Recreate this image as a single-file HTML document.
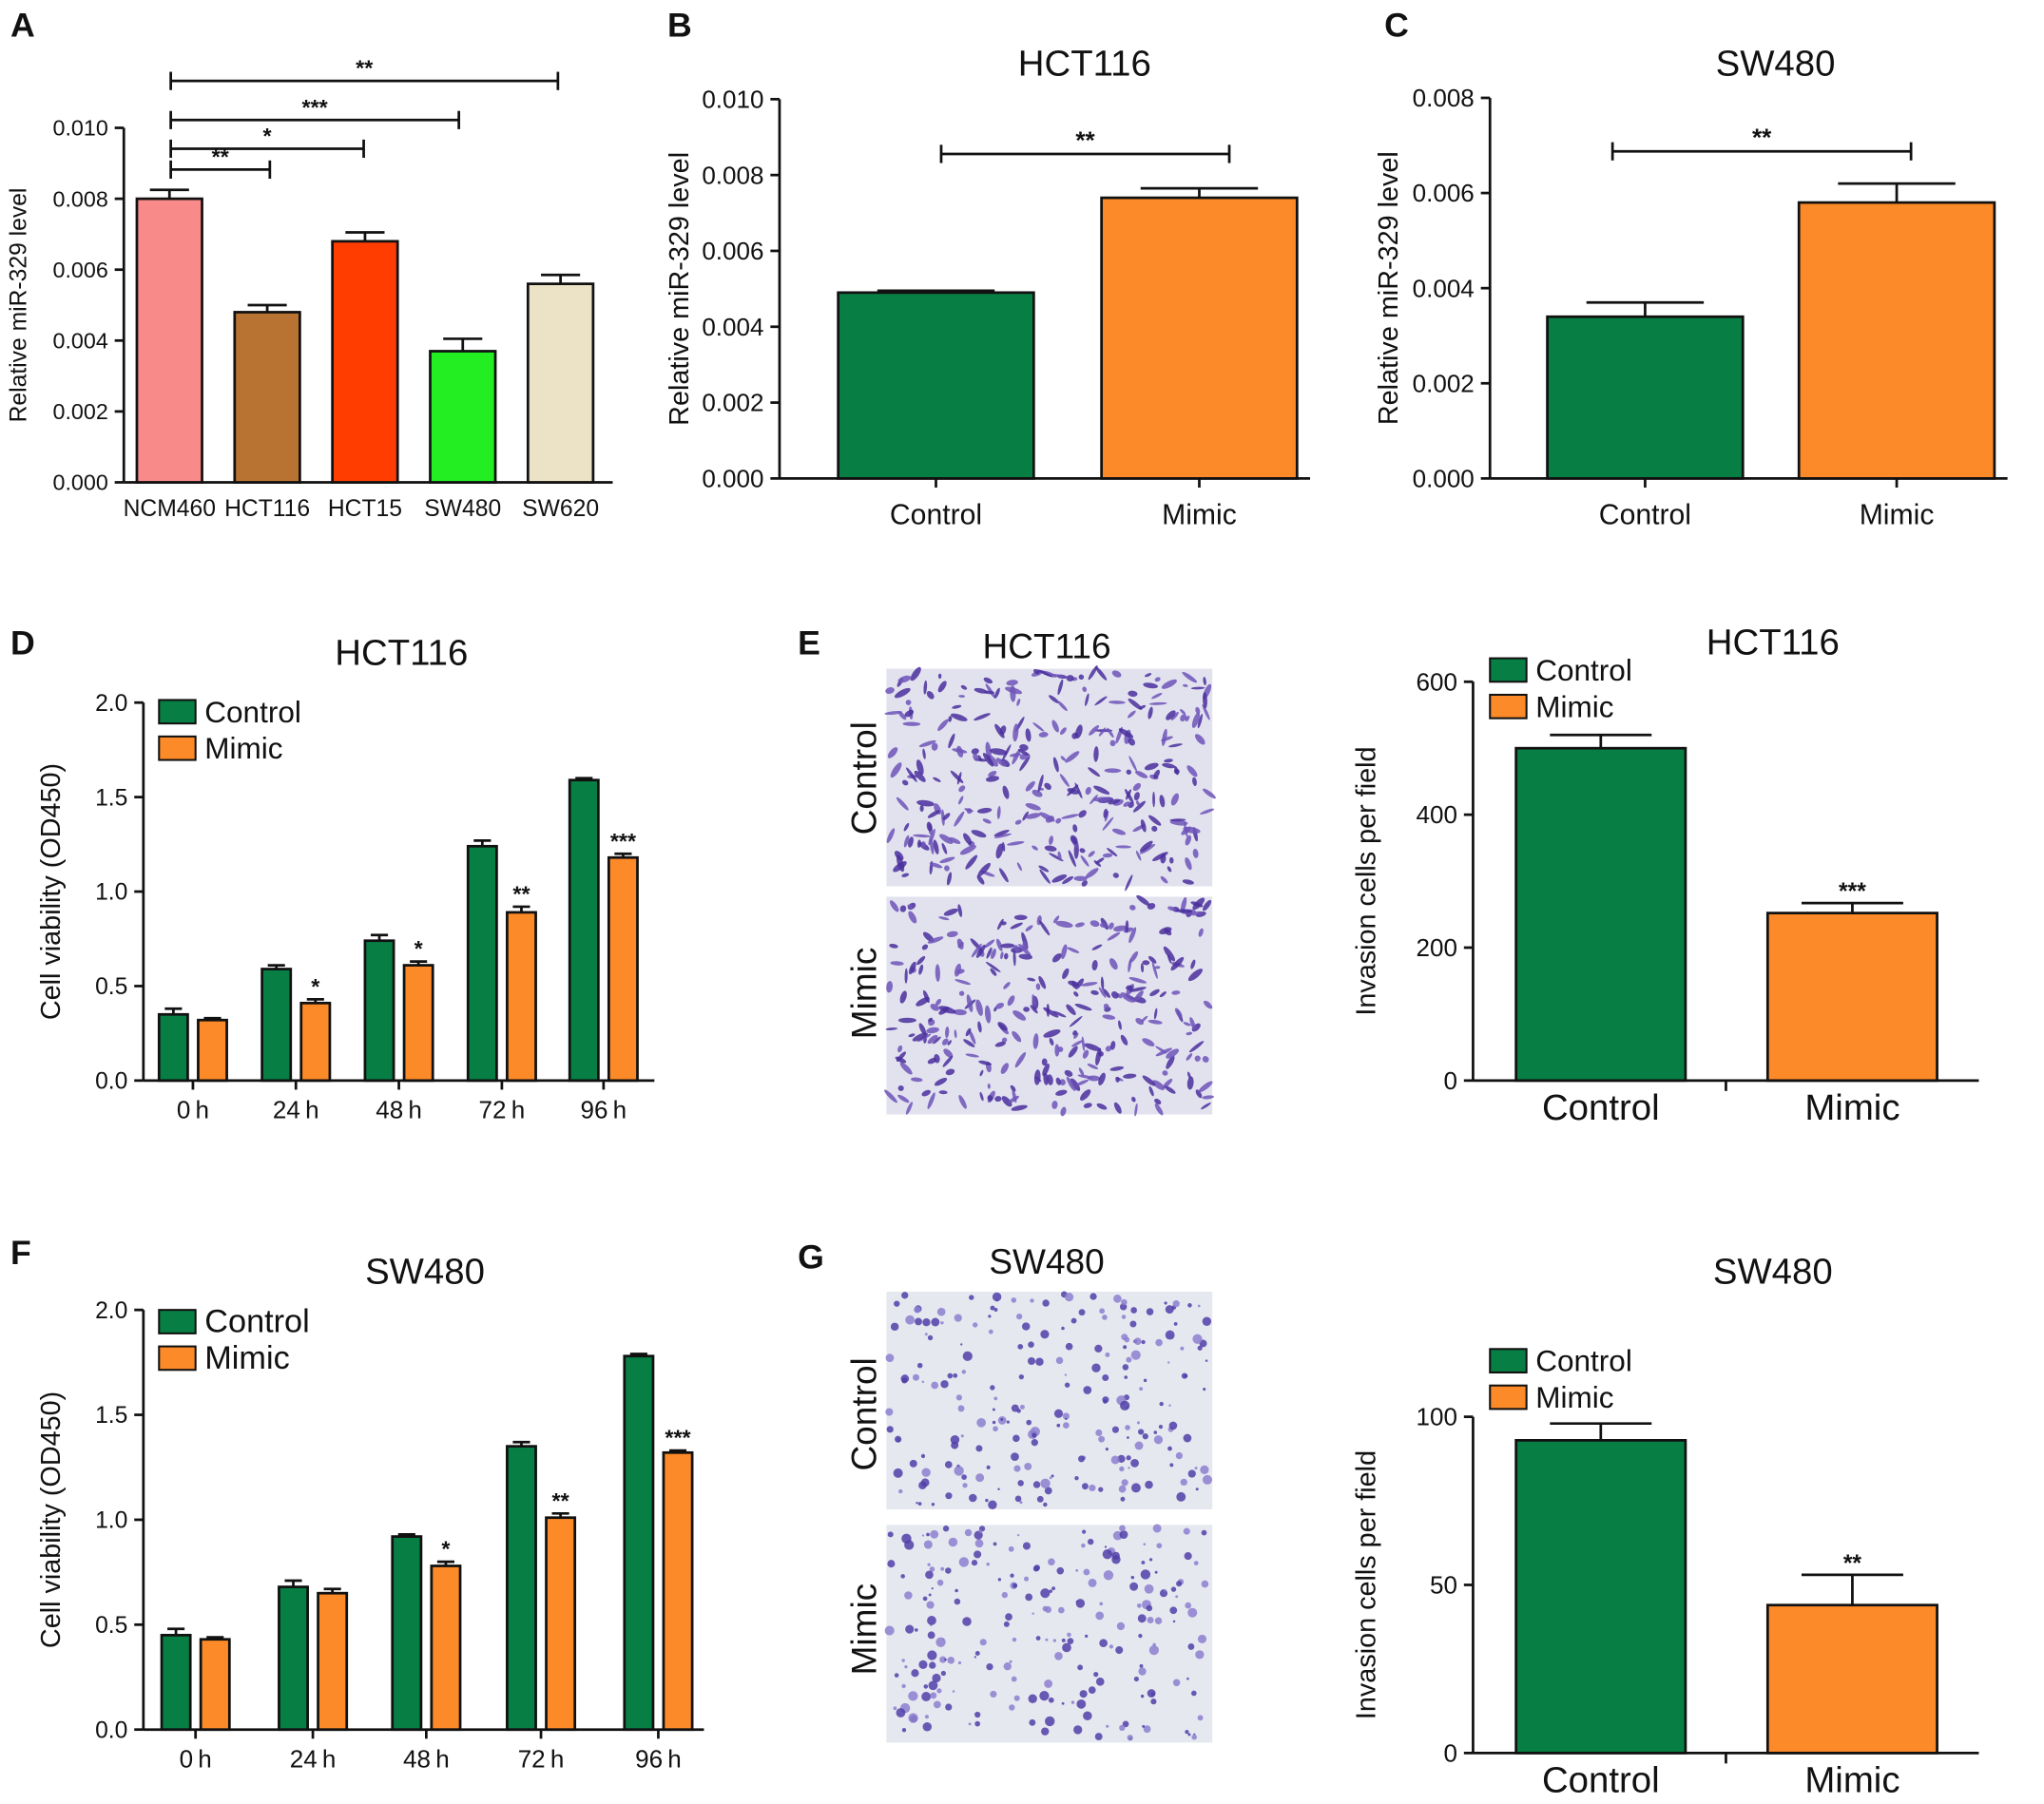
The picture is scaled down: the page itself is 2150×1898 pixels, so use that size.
<!DOCTYPE html>
<html><head><meta charset="utf-8">
<style>
html,body{margin:0;padding:0;background:#fff;}
svg{display:block;font-family:"Liberation Sans",Arial,sans-serif;}
</style></head>
<body>
<svg id="fig" width="2150" height="1898" viewBox="0 0 1568 1384" xmlns="http://www.w3.org/2000/svg">
</svg>
<script>
// Panel A data
const aCats=["NCM460","HCT116","HCT15","SW480","SW620"];
const aVals=[0.0080,0.0048,0.0068,0.0037,0.0056];
const aErr=[0.00025,0.0002,0.00025,0.00035,0.00025];
const aTicks=["0.000","0.002","0.004","0.006","0.008","0.010"];
// Panel B
const bCats=["Control","Mimic"];
const bVals=[0.0049,0.0074];
const bErr=[0.00005,0.00025];
const bTicks=["0.000","0.002","0.004","0.006","0.008","0.010"];
// Panel C
const cVals=[0.0034,0.0058];
const cErr=[0.0003,0.0004];
const cTicks=["0.000","0.002","0.004","0.006","0.008"];
// Panel D
const timeCats=["0\u2009h","24\u2009h","48\u2009h","72\u2009h","96\u2009h"];
const dControl=[0.35,0.59,0.74,1.24,1.59];
const dMimic=[0.32,0.41,0.61,0.89,1.18];
const dCtrlErr=[0.03,0.02,0.03,0.03,0.01];
const dMimErr=[0.01,0.02,0.02,0.03,0.02];
const dStars=["","*","*","**","***"];
const vTicks=["0.0","0.5","1.0","1.5","2.0"];
// Panel F
const fControl=[0.45,0.68,0.92,1.35,1.78];
const fMimic=[0.43,0.65,0.78,1.01,1.32];
const fCtrlErr=[0.03,0.03,0.01,0.02,0.01];
const fMimErr=[0.01,0.02,0.02,0.02,0.01];
const fStars=["","","*","**","***"];
// Panel E invasion
const eVals=[500,252];
const eErr=[20,15];
const eTicks=[0,200,400,600];
// Panel G invasion
const gVals=[93,44];
const gErr=[5,9];
const gTicks=[0,50,100];

const GREEN="#077e44", ORANGE="#fd8a28";
const svg=document.getElementById('fig');
const NS="http://www.w3.org/2000/svg";
function el(tag,attrs,parent){const e=document.createElementNS(NS,tag);for(const k in attrs)e.setAttribute(k,attrs[k]);(parent||svg).appendChild(e);return e;}
function txt(x,y,s,size,anchor,parent,extra){const t=el('text',Object.assign({x:x,y:y,'font-size':size,'text-anchor':anchor||'middle',fill:'#111'},extra||{}),parent);t.textContent=s;return t;}
function grp(name){const g=el('g',{});return g;}
function line(x1,y1,x2,y2,p,w){return el('line',{x1:x1,y1:y1,x2:x2,y2:y2,stroke:'#111','stroke-width':w||2},p);}
function yAxis(g,x,y0,y1,tickVals,tickLabels,max,size){
  line(x,y0,x,y1,g);
  tickVals.forEach((v,i)=>{const y=y0-(v/max)*(y0-y1);line(x-7,y,x,y,g);
    const t=txt(x-12,y+size*0.35,tickLabels[i],size,'end',g);});
}
function bar(g,x,w,v,err,y0,scale,fill,name){
  const y=y0-v*scale;
  const r=el('rect',{x:x,y:y,width:w,height:v*scale,fill:fill,stroke:'#111','stroke-width':2},g);
  
  const ye=y-err*scale;
  line(x+w/2,y,x+w/2,ye,g);line(x+w/2-w*0.3,ye,x+w/2+w*0.3,ye,g);
  return ye;
}
function label(s,x,y){const t=txt(x,y,s,26,'start',svg,{'font-weight':'bold'});}
function bracket(g,x1,x2,y,s,size){line(x1,y,x2,y,g);line(x1,y-7,x1,y+7,g);line(x2,y-7,x2,y+7,g);txt((x1+x2)/2,y-4,s,size||17,'middle',g,{'font-weight':'bold'});}

// Panel A
label("A",8,28);
(function(){const g=grp('panel-a-chart');const y0=370,top=98,max=0.010,sc=(y0-top)/max;
 yAxis(g,95,y0,top,[0,0.002,0.004,0.006,0.008,0.010],aTicks,max,17);
 line(95,y0,470,y0,g);
 const colors=["#f98a8a","#b87333","#ff3d00","#22ee22","#ece3c6"];
 aCats.forEach((c,i)=>{const x=105+i*75;bar(g,x,50,aVals[i],aErr[i],y0,sc,colors[i],'bar-'+c.toLowerCase());
   txt(x+25,396,c,18,'middle',g);});
 txt(20,234,"Relative miR-329 level",18,'middle',g,{transform:'rotate(-90 20 234)'});
 bracket(g,131,207,130,"**");bracket(g,131,279,114,"*");bracket(g,131,352,92,"***");bracket(g,131,428,62,"**");
})();

function twoBar(name,ax,y0,top,max,tickVals,tickLabels,vals,errs,xs,w,title,titleX,titleY,yl,ylx,br){
 const g=grp(name);const sc=(y0-top)/max;
 yAxis(g,ax,y0,top,tickVals,tickLabels,max,19);
 line(ax,y0,xs[1]+w+10,y0,g);
 bCats.forEach((c,i)=>{bar(g,xs[i],w,vals[i],errs[i],y0,sc,i?ORANGE:GREEN,'bar-'+c.toLowerCase());
  line(xs[i]+w/2,y0,xs[i]+w/2,y0+7,g);txt(xs[i]+w/2,y0+35,c,22,'middle',g);});
 txt(titleX,titleY,title,28,'middle',g);
 txt(ylx,(y0+top)/2,yl,21,'middle',g,{transform:`rotate(-90 ${ylx} ${(y0+top)/2})`});
 if(br)bracket(g,br[0],br[1],br[2],"**",19);
}
label("B",512,28);
twoBar('panel-b-chart',598,367,76,0.010,[0,0.002,0.004,0.006,0.008,0.010],bTicks,bVals,bErr,[643,845],150,"HCT116",832,58,"Relative miR-329 level",528,[722,943,118]);
label("C",1062,28);
twoBar('panel-c-chart',1143,367,75,0.008,[0,0.002,0.004,0.006,0.008],cTicks,cVals,cErr,[1187,1380],150,"SW480",1362,58,"Relative miR-329 level",1072,[1237,1466,116]);

function timeChart(name,ax,y0,top,xEnd,centers,ctrl,mim,ce,me,stars,title,tx,ty,legY,legSize){
 const g=grp(name);const max=2.0,sc=(y0-top)/max;
 yAxis(g,ax,y0,top,[0,0.5,1.0,1.5,2.0],vTicks,max,18);
 line(ax,y0,xEnd,y0,g);
 timeCats.forEach((c,i)=>{const cx=centers[i];
  bar(g,cx-26,22,ctrl[i],ce[i],y0,sc,GREEN,'bar-control-'+i);
  const ye=bar(g,cx+4,22,mim[i],me[i],y0,sc,ORANGE,'bar-mimic-'+i);
  if(stars[i])txt(cx+15,ye-4,stars[i],17,'middle',g,{'font-weight':'bold'});
  line(cx,y0,cx,y0+7,g);txt(cx,y0+29,c,19,'middle',g);});
 txt(tx,ty,title,28,'middle',g);
 txt(46,(y0+top)/2,"Cell viability (OD450)",21,'middle',g,{transform:`rotate(-90 46 ${(y0+top)/2})`});
 const lg=el('g',{},g);
 el('rect',{x:122,y:legY,width:28,height:18,fill:GREEN,stroke:'#111','stroke-width':1.5},lg);
 txt(157,legY+17,"Control",legSize,'start',lg);
 el('rect',{x:122,y:legY+28,width:28,height:18,fill:ORANGE,stroke:'#111','stroke-width':1.5},lg);
 txt(157,legY+45,"Mimic",legSize,'start',lg);
}
label("D",8,502);
timeChart('panel-d-chart',110,829,539,502,[148,227,306,385,463],dControl,dMimic,dCtrlErr,dMimErr,dStars,"HCT116",308,510,537,23);
label("F",8,970);
timeChart('panel-f-chart',110,1327,1005,540,[150,240,327,415,505],fControl,fMimic,fCtrlErr,fMimErr,fStars,"SW480",326,985,1005,25);

function micro(name,x,y,w,h,seed,dense){
 const g=grp(name);
 el('rect',{x:x,y:y,width:w,height:h,fill:dense?'#e2e2ef':'#e6e8f0'},g);
 let s=seed;function r(){s=(s*9301+49297)%233280;return s/233280;}
 const n=dense?300:220;
 for(let i=0;i<n;i++){const cx=x+2+r()*(w-4),cy=y+2+r()*(h-4);
  if(dense){el('ellipse',{cx:cx,cy:cy,rx:2+r()*5,ry:1+r()*1.5,transform:`rotate(${r()*180} ${cx} ${cy})`,fill:r()>0.5?'#4a2f9c':'#6e55b8',opacity:0.85},g);}
  else{el('circle',{cx:cx,cy:cy,r:0.8+r()*3,fill:r()>0.4?'#5040a8':'#8c7fcf',opacity:0.85},g);}}
}
label("E",612,502);
txt(803,505,"HCT116",27,'middle');
micro('micrograph-e-control',680,513,250,167,11,true);
micro('micrograph-e-mimic',680,688,250,167,29,true);
txt(672,597,"Control",27,'middle',svg,{transform:'rotate(-90 672 597)'});
txt(672,762,"Mimic",27,'middle',svg,{transform:'rotate(-90 672 762)'});
label("G",612,973);
txt(803,977,"SW480",27,'middle');
micro('micrograph-g-control',680,991,250,167,5,false);
micro('micrograph-g-mimic',680,1170,250,167,77,false);
txt(672,1085,"Control",27,'middle',svg,{transform:'rotate(-90 672 1085)'});
txt(672,1250,"Mimic",27,'middle',svg,{transform:'rotate(-90 672 1250)'});

function invChart(name,y0,top,max,ticks,vals,errs,stars,title,ty,legY){
 const g=grp(name);const sc=(y0-top)/max;
 yAxis(g,1130,y0,top,ticks,ticks.map(String),max,19);
 line(1130,y0,1518,y0,g);line(1324,y0,1324,y0+8,g);
 bCats.forEach((c,i)=>{const x=[1163,1356][i];const ye=bar(g,x,130,vals[i],errs[i],y0,sc,i?ORANGE:GREEN,'bar-'+c.toLowerCase());
  if(stars[i])txt(x+65,ye-3,stars[i],18,'middle',g,{'font-weight':'bold'});
  txt(x+65,y0+30,c,28,'middle',g);});
 txt(1360,ty,title,28,'middle',g);
 const cy=(y0+top)/2;
 txt(1055,cy,"Invasion cells per field",21,'middle',g,{transform:`rotate(-90 1055 ${cy})`});
 const lg=el('g',{},g);
 el('rect',{x:1143,y:legY,width:28,height:18,fill:GREEN,stroke:'#111','stroke-width':1.5},lg);
 txt(1178,legY+17,"Control",23,'start',lg);
 el('rect',{x:1143,y:legY+28,width:28,height:18,fill:ORANGE,stroke:'#111','stroke-width':1.5},lg);
 txt(1178,legY+45,"Mimic",23,'start',lg);
}
invChart('panel-e-chart',829,523,600,eTicks,eVals,eErr,["","***"],"HCT116",502,505);
invChart('panel-g-chart',1345,1087,100,gTicks,gVals,gErr,["","**"],"SW480",985,1035);
</script>
</body></html>
